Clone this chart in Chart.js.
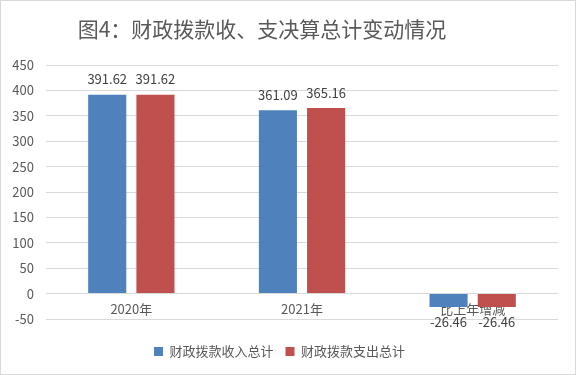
<!DOCTYPE html>
<html>
<head>
<meta charset="utf-8">
<script src="https://cdn.jsdelivr.net/npm/chart.js@4"></script>
<style>
  html, body { margin: 0; padding: 0; background: #fff; }
  #wrap { width: 574px; height: 373px; border: 1px solid #d9d9d9; }
</style>
</head>
<body>
<div id="wrap"><canvas id="myChart"></canvas></div>
<script>
var categories = ['2020年', '2021年', '比上年增减'];
var incomeTotal = [391.62, 361.09, -26.46];
var spendTotal = [391.62, 365.16, -26.46];
var yTicks = [-50, 0, 50, 100, 150, 200, 250, 300, 350, 400, 450];

var chartTitle = '图4：财政拨款收、支决算总计变动情况';
var fontFamily = '"Noto Sans CJK SC", "Noto Sans", sans-serif';

// value labels above/below bars, plus the title
var labelPlugin = {
    id: 'labels',
    afterDatasetsDraw: function(chart) {
        var ctx = chart.ctx;
        ctx.save();
        ctx.font = '13px ' + fontFamily;
        ctx.fillStyle = '#404040';
        ctx.textAlign = 'center';
        chart.data.datasets.forEach(function(ds, i) {
            chart.getDatasetMeta(i).data.forEach(function(bar, j) {
                var v = ds.data[j];
                if (v >= 0) {
                    ctx.textBaseline = 'bottom';
                    ctx.fillText(v.toFixed(2), bar.x, bar.y - 9);
                } else {
                    ctx.textBaseline = 'top';
                    ctx.fillText(v.toFixed(2), bar.x, bar.y + 9);
                }
            });
        });
        ctx.font = '21px ' + fontFamily;
        ctx.fillStyle = '#595959';
        ctx.textBaseline = 'middle';
        ctx.fillText(chartTitle, 261, 28);
        ctx.restore();
    }
};

var ctx1 = document.getElementById('myChart').getContext('2d');
var myChart = new Chart(ctx1, {
    type: 'bar',
    data: {
        labels: categories,
        datasets: [{
            label: '财政拨款收入总计',
            data: incomeTotal,
            backgroundColor: '#4f81bd',
            categoryPercentage: 0.565,
            barPercentage: 0.79
        }, {
            label: '财政拨款支出总计',
            data: spendTotal,
            backgroundColor: '#c0504d',
            categoryPercentage: 0.565,
            barPercentage: 0.79
        }]
    },
    options: {
        responsive: true,
        maintainAspectRatio: false,
        animation: false,
        layout: {
            padding: { top: 64, left: 0, right: 17, bottom: 6 }
        },
        scales: {
            x: {
                position: { y: 0 },
                z: 1,
                grid: { display: false },
                border: { display: false },
                ticks: {
                    color: '#595959',
                    font: { size: 13, family: fontFamily },
                    padding: 0
                }
            },
            y: {
                min: -50,
                max: 450,
                afterBuildTicks: function(scale) {
                    scale.ticks = yTicks.map(function(v) { return { value: v }; });
                },
                afterFit: function(scale) { scale.width = 45; },
                grid: { color: '#d9d9d9', drawTicks: false },
                border: { display: false },
                ticks: {
                    color: '#595959',
                    font: { size: 13, family: fontFamily },
                    padding: 12
                }
            }
        },
        plugins: {
            legend: {
                position: 'bottom',
                title: {
                    display: true,
                    text: '',
                    font: { size: 14, lineHeight: 1 },
                    padding: 0
                },
                labels: {
                    boxWidth: 9,
                    boxHeight: 9,
                    padding: 12,
                    color: '#595959',
                    font: { size: 13, family: fontFamily }
                }
            },
            tooltip: { enabled: false }
        }
    },
    plugins: [labelPlugin]
});
</script>
</body>
</html>
